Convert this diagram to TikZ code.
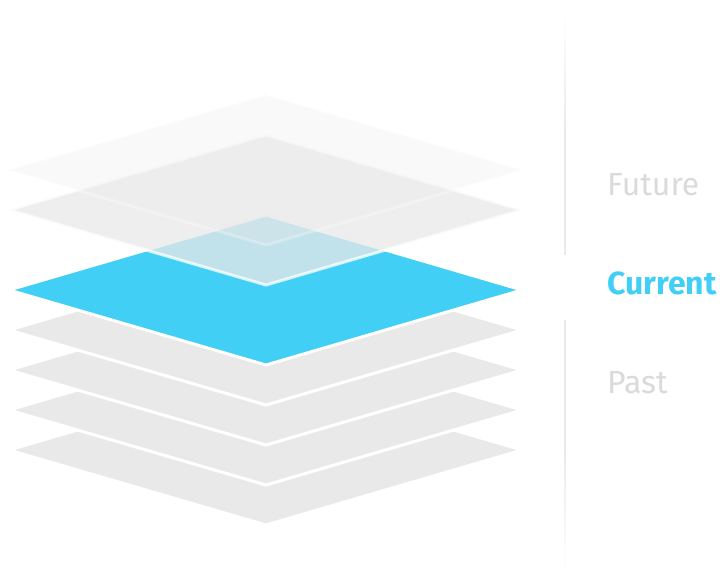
\documentclass[tikz,border=0pt]{standalone}
\usepackage{fontspec}
\setmainfont{Fira Sans}
\definecolor{layergray}{HTML}{E9E9E9}
\definecolor{currentblue}{HTML}{42CFF5}
\definecolor{labelgray}{HTML}{DADADA}
\definecolor{linegray}{HTML}{EAEAEA}

\begin{document}
\begin{tikzpicture}
  \begin{scope}[x=1pt, y=-1pt]
    \useasboundingbox (0,0) rectangle (720,576);
    % past layers, bottom first
    \filldraw [color=white, fill=layergray, line width=3pt] (9,450) -- (266,375) -- (522,450) -- (266,525) -- cycle;
    \filldraw [color=white, fill=layergray, line width=3pt] (9,410) -- (266,335) -- (522,410) -- (266,485) -- cycle;
    \filldraw [color=white, fill=layergray, line width=3pt] (9,370) -- (266,295) -- (522,370) -- (266,445) -- cycle;
    \filldraw [color=white, fill=layergray, line width=3pt] (9,330) -- (266,255) -- (522,330) -- (266,405) -- cycle;
    % current layer
    \filldraw [color=white, fill=currentblue, line width=3pt] (9,290) -- (266,215) -- (522,290) -- (266,365) -- cycle;
    % future layers
    \filldraw [color=white, fill=layergray, line width=3pt, opacity=0.77] (9,210) -- (266,135) -- (522,210) -- (266,285) -- cycle;
    \filldraw [color=white, fill=layergray, line width=3pt, opacity=0.27] (9,170) -- (266,95) -- (522,170) -- (266,245) -- cycle;
    % time axis
    \shade [top color=white, bottom color=linegray] (564.2,8) rectangle (565.8,130);
    \fill [linegray] (564.2,130) rectangle (565.8,255);
    \fill [linegray] (564.2,320) rectangle (565.8,450);
    \shade [top color=linegray, bottom color=white] (564.2,450) rectangle (565.8,576);
    \node (F) [anchor=base west, inner sep=0pt, text=labelgray, font=\fontsize{32}{38}\selectfont] at (607,195) {Future};
    \node (C) [anchor=base west, inner sep=0pt, text=currentblue, font=\fontsize{32}{38}\selectfont\bfseries] at (607,294) {Current};
    \node (P) [anchor=base west, inner sep=0pt, text=labelgray, font=\fontsize{32}{38}\selectfont] at (607,393) {Past};
  \end{scope}
\end{tikzpicture}
\end{document}
